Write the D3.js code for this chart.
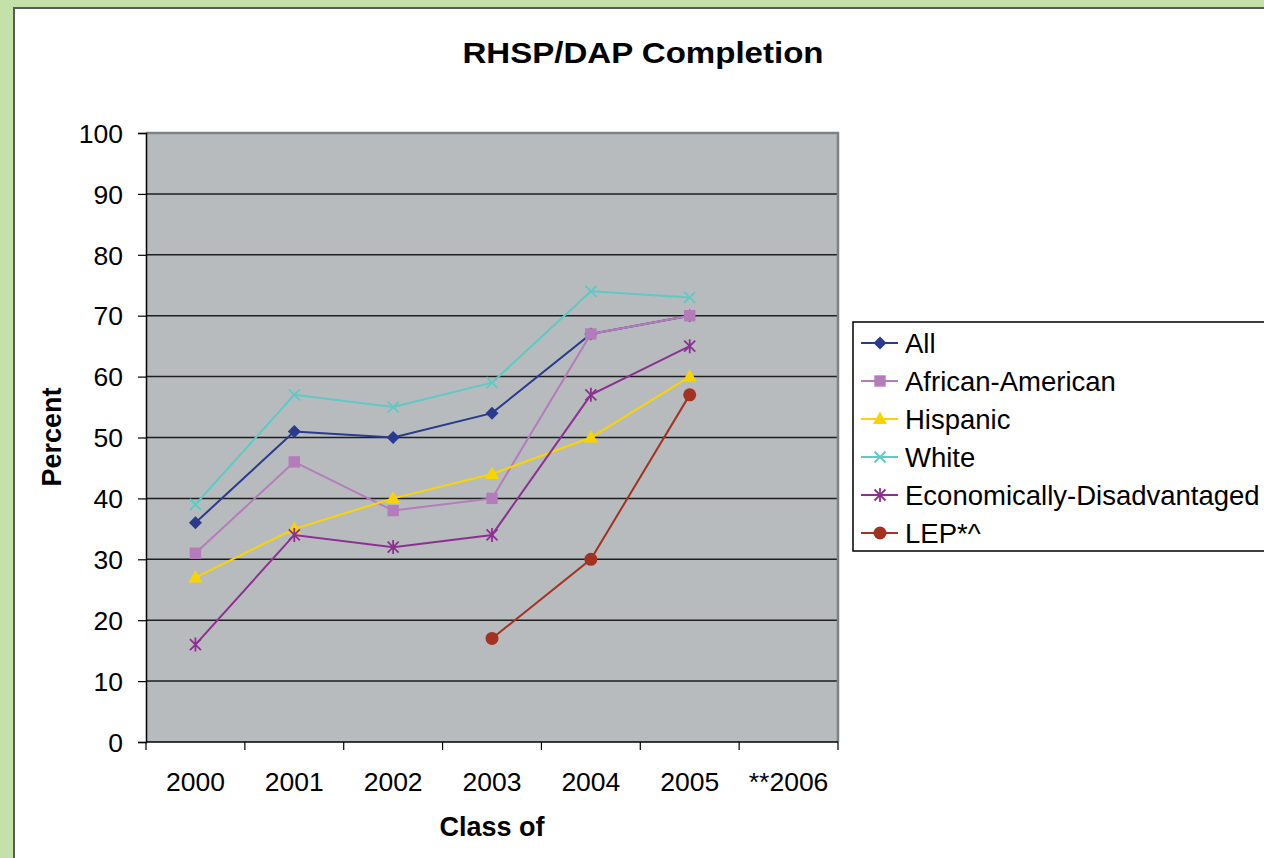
<!DOCTYPE html>
<html>
<head>
<meta charset="utf-8">
<script src="https://cdn.jsdelivr.net/npm/d3@7"></script>
<style>
  html, body { margin: 0; padding: 0; background: #c4e1aa; }
  svg { display: block; font-family: "Liberation Sans", Arial, sans-serif; }
</style>
</head>
<body>
<svg id="chart" width="1264" height="858"></svg>
<script>
// ---- Data ----
const categories = ["2000", "2001", "2002", "2003", "2004", "2005", "**2006"];
const yTicks = [0, 10, 20, 30, 40, 50, 60, 70, 80, 90, 100];
const seriesNames = ["All", "African-American", "Hispanic", "White", "Economically-Disadvantaged", "LEP*^"];
const allValues      = [36, 51, 50, 54, 67, 70, null];
const africanAmerican = [31, 46, 38, 40, 67, 70, null];
const hispanic       = [27, 35, 40, 44, 50, 60, null];
const white          = [39, 57, 55, 59, 74, 73, null];
const econDisadv     = [16, 34, 32, 34, 57, 65, null];
const lep            = [null, null, null, 17, 30, 57, null];
const seriesValues = [allValues, africanAmerican, hispanic, white, econDisadv, lep];
const seriesColors = ["#2a3a8c", "#b57cbc", "#f8d500", "#5fc9c4", "#8e3092", "#a33222"];
const seriesMarkers = ["diamond", "square", "triangle", "x", "asterisk", "circle"];

(function () {
const svg = d3.select("#chart");

// background panel
svg.append("rect").attr("x", 0).attr("y", 0).attr("width", 1264).attr("height", 858).attr("fill", "#c4e1aa");
svg.append("rect").attr("x", 14).attr("y", 8).attr("width", 1270).attr("height", 870)
  .attr("fill", "#ffffff").attr("stroke", "#5a5a5a").attr("stroke-width", 2);

// plot area
const pLeft = 146, pRight = 838, pTop = 133, pBottom = 742;
const x = d3.scaleBand().domain(categories).range([pLeft, pRight]).padding(0);
const y = d3.scaleLinear().domain([0, 100]).range([pBottom, pTop]);

svg.append("rect").attr("x", pLeft).attr("y", pTop).attr("width", pRight - pLeft).attr("height", pBottom - pTop)
  .attr("fill", "#b7bbbe");

// gridlines
svg.append("g").selectAll("line").data(yTicks.filter(d => d > 0 && d < 100)).join("line")
  .attr("x1", pLeft).attr("x2", pRight).attr("y1", d => y(d)).attr("y2", d => y(d))
  .attr("stroke", "#1e1e1e").attr("stroke-width", 1.5);

// plot border (top & right)
svg.append("path").attr("d", `M${pLeft},${pTop}H${pRight}V${pBottom}`)
  .attr("fill", "none").attr("stroke", "#7f8285").attr("stroke-width", 2.5);

// y axis
const yAxis = svg.append("g").attr("transform", `translate(${pLeft},0)`)
  .call(d3.axisLeft(y).tickValues(yTicks).tickSize(8).tickPadding(15).tickFormat(d3.format("d")));
yAxis.select(".domain").attr("stroke", "#000").attr("stroke-width", 1.5);
yAxis.selectAll(".tick line").attr("stroke", "#000").attr("stroke-width", 1.2);
yAxis.selectAll("text").attr("font-size", 26.5).attr("fill", "#000")
  .attr("font-family", "Liberation Sans, Arial, sans-serif").attr("dy", "0.35em");

// x axis (ticks at band boundaries)
const xAxisG = svg.append("g").attr("transform", `translate(0,${pBottom})`);
xAxisG.append("line").attr("x1", pLeft).attr("x2", pRight).attr("y1", 0).attr("y2", 0)
  .attr("stroke", "#000").attr("stroke-width", 1.5);
const boundaries = categories.map(c => x(c)).concat([pRight]);
xAxisG.selectAll("line.tk").data(boundaries).join("line").attr("class", "tk")
  .attr("x1", d => d).attr("x2", d => d).attr("y1", 0).attr("y2", 8)
  .attr("stroke", "#000").attr("stroke-width", 1.2);
xAxisG.selectAll("text").data(categories).join("text")
  .attr("x", d => x(d) + x.bandwidth() / 2).attr("y", 49)
  .attr("text-anchor", "middle").attr("font-size", 26.5).attr("fill", "#000").text(d => d);

// axis titles
svg.append("text").attr("x", 492).attr("y", 836).attr("text-anchor", "middle")
  .attr("font-size", 27).attr("font-weight", "bold").text("Class of");
svg.append("text").attr("transform", "translate(61,437) rotate(-90)").attr("text-anchor", "middle")
  .attr("font-size", 27).attr("font-weight", "bold").text("Percent");

// title
svg.append("text").attr("x", 643).attr("y", 63).attr("text-anchor", "middle")
  .attr("font-size", 30).attr("font-weight", "bold")
  .attr("textLength", 361).attr("lengthAdjust", "spacingAndGlyphs")
  .text("RHSP/DAP Completion");

// marker drawing
function drawMarker(g, type, color) {
  if (type === "diamond") {
    g.append("path").attr("d", "M0,-6.5L6.5,0L0,6.5L-6.5,0Z").attr("fill", color);
  } else if (type === "square") {
    g.append("path").attr("d", d3.symbol().type(d3.symbolSquare).size(130)()).attr("fill", color);
  } else if (type === "triangle") {
    g.append("path").attr("d", "M0,-7.5L7,5L-7,5Z").attr("fill", color);
  } else if (type === "x") {
    g.append("path").attr("d", "M-5.5,-5.5L5.5,5.5M-5.5,5.5L5.5,-5.5").attr("stroke", color).attr("stroke-width", 1.8).attr("fill", "none");
  } else if (type === "asterisk") {
    g.append("path").attr("d", "M-5.5,-5.5L5.5,5.5M-5.5,5.5L5.5,-5.5M0,-7L0,7").attr("stroke", color).attr("stroke-width", 1.8).attr("fill", "none");
  } else if (type === "circle") {
    g.append("circle").attr("r", 6.5).attr("fill", color);
  }
}

// series
const line = d3.line().defined(d => d.v != null).x(d => x(d.c) + x.bandwidth() / 2).y(d => y(d.v));
seriesNames.forEach((name, i) => {
  const pts = categories.map((c, j) => ({ c, v: seriesValues[i][j] }));
  const g = svg.append("g");
  g.append("path").datum(pts).attr("d", line).attr("fill", "none")
    .attr("stroke", seriesColors[i]).attr("stroke-width", 2);
  pts.filter(d => d.v != null).forEach(d => {
    const mg = g.append("g").attr("transform", `translate(${x(d.c) + x.bandwidth() / 2},${y(d.v)})`);
    drawMarker(mg, seriesMarkers[i], seriesColors[i]);
  });
});

// legend
const lg = svg.append("g");
lg.append("rect").attr("x", 853).attr("y", 322).attr("width", 420).attr("height", 229)
  .attr("fill", "#ffffff").attr("stroke", "#000").attr("stroke-width", 1.5);
seriesNames.forEach((name, i) => {
  const cy = 343 + i * 38;
  lg.append("line").attr("x1", 861).attr("x2", 898).attr("y1", cy).attr("y2", cy)
    .attr("stroke", seriesColors[i]).attr("stroke-width", 2);
  const mg = lg.append("g").attr("transform", `translate(880,${cy})`);
  drawMarker(mg, seriesMarkers[i], seriesColors[i]);
  lg.append("text").attr("x", 905).attr("y", cy + 10).attr("font-size", 27.5).attr("fill", "#000").text(name);
});
})();
</script>
</body>
</html>
